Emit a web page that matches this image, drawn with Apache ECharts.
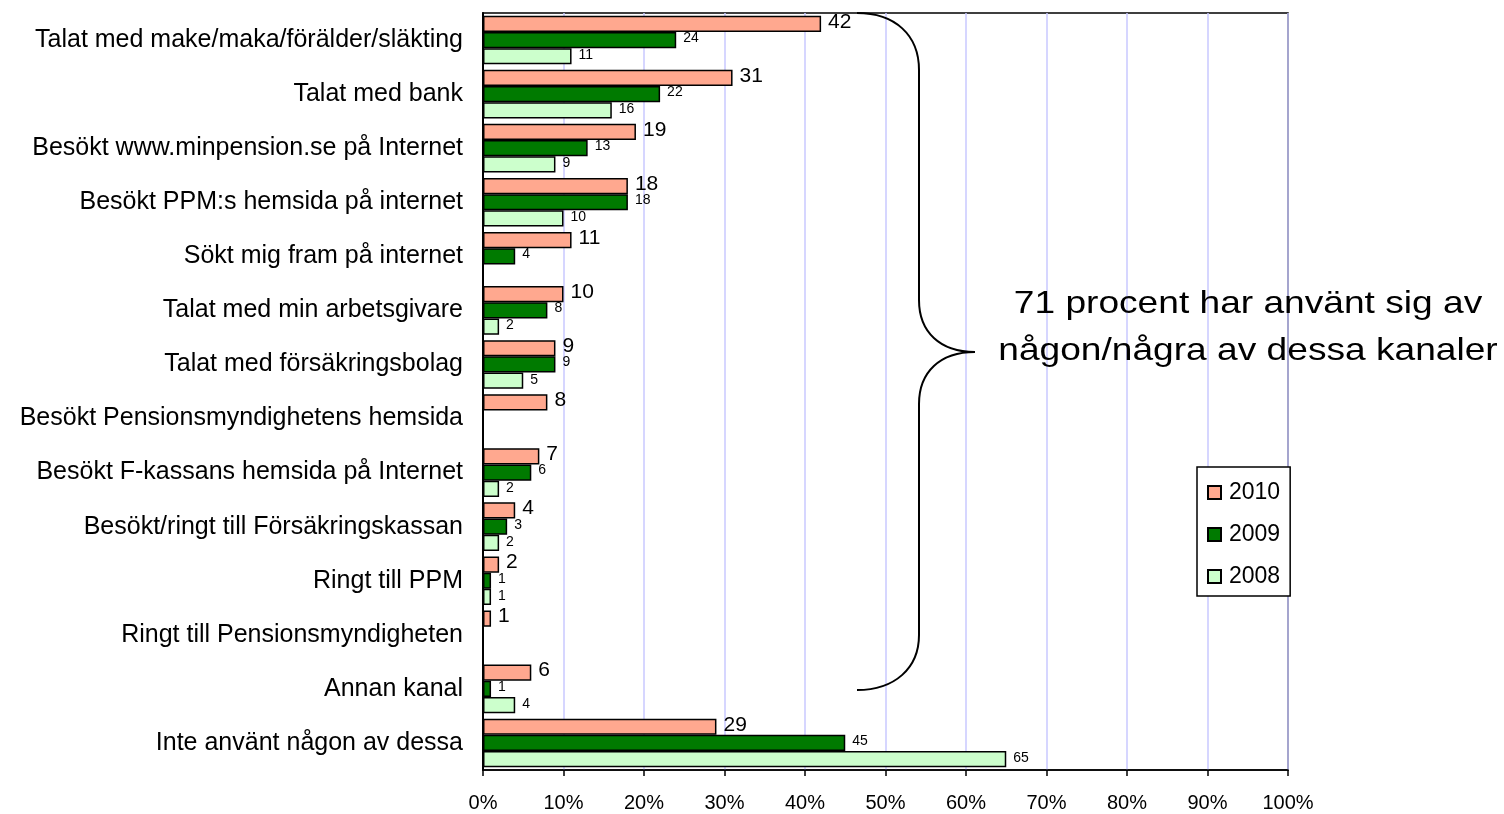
<!DOCTYPE html>
<html>
<head>
<meta charset="utf-8">
<script src="https://cdn.jsdelivr.net/npm/echarts@6/dist/echarts.min.js"></script>
<style>
  html, body { margin: 0; padding: 0; background: #fff; }
  #main { width: 1504px; height: 814px; }
</style>
</head>
<body>
<div id="main"></div>
<script>
var categories = [
    'Talat med make/maka/förälder/släkting',
    'Talat med bank',
    'Besökt www.minpension.se på Internet',
    'Besökt PPM:s hemsida på internet',
    'Sökt mig fram på internet',
    'Talat med min arbetsgivare',
    'Talat med försäkringsbolag',
    'Besökt Pensionsmyndighetens hemsida',
    'Besökt F-kassans hemsida på Internet',
    'Besökt/ringt till Försäkringskassan',
    'Ringt till PPM',
    'Ringt till Pensionsmyndigheten',
    'Annan kanal',
    'Inte använt någon av dessa'
];
var values2010 = [42, 31, 19, 18, 11, 10, 9, 8, 7, 4, 2, 1, 6, 29];
var values2009 = [24, 22, 13, 18, 4, 8, 9, '-', 6, 3, 1, '-', 1, 45];
var values2008 = [11, 16, 9, 10, '-', 2, 5, '-', 2, 2, 1, '-', 4, 65];
var tickLabels = ['0%', '10%', '20%', '30%', '40%', '50%', '60%', '70%', '80%', '90%', '100%'];

var font = 'Liberation Sans, Arial, sans-serif';
var myChart = echarts.init(document.getElementById('main'));

function barSeries(name, data, color, labelSize, offsetY) {
    return {
        name: name,
        type: 'bar',
        data: data,
        barGap: '0%',
        barCategoryGap: '10%',
        itemStyle: { color: color, borderColor: '#000', borderWidth: 1.5 },
        label: {
            show: true,
            position: 'right',
            distance: 7,
            offset: [0, offsetY],
            color: '#000',
            fontFamily: font,
            fontSize: labelSize
        }
    };
}

// klammern till höger
var braceStyle = { fill: null, stroke: '#000', lineWidth: 2 };
function curve(x1, y1, c1x, c1y, c2x, c2y, x2, y2) {
    return { type: 'bezierCurve', z: 100, style: braceStyle,
        shape: { x1: x1, y1: y1, cpx1: c1x, cpy1: c1y, cpx2: c2x, cpy2: c2y, x2: x2, y2: y2 } };
}
function line(x1, y1, x2, y2) {
    return { type: 'line', z: 100, style: braceStyle, shape: { x1: x1, y1: y1, x2: x2, y2: y2 } };
}

var option = {
    backgroundColor: '#fff',
    animation: false,
    textStyle: { fontFamily: font },
    grid: { left: 483, right: 216, top: 13, bottom: 44, show: true, borderColor: '#000', borderWidth: 1.5 },
    legend: {
        orient: 'vertical',
        left: 1197,
        top: 467,
        padding: [14, 10, 8, 10],
        itemGap: 19,
        itemWidth: 13,
        itemHeight: 13,
        icon: 'rect',
        borderColor: '#000',
        borderWidth: 1.5,
        backgroundColor: '#fff',
        textStyle: { fontSize: 23, color: '#000', fontFamily: font, padding: [0, 0, 0, 3] },
        data: ['2010', '2009', '2008']
    },
    xAxis: {
        type: 'value',
        min: 0,
        max: 100,
        interval: 10,
        axisLine: { show: true, lineStyle: { color: '#000', width: 1.5 } },
        axisTick: { show: true, length: 6, lineStyle: { color: '#000', width: 1.5 } },
        axisLabel: {
            fontSize: 20, color: '#000', margin: 23, fontFamily: font,
            formatter: function (v) { return tickLabels[Math.round(v / 10)]; }
        },
        splitLine: { show: true, lineStyle: { color: '#c8c8ff', width: 1.5 } }
    },
    yAxis: {
        type: 'category',
        inverse: true,
        data: categories,
        axisLine: { show: true, lineStyle: { color: '#000', width: 2 } },
        axisTick: { show: false },
        axisLabel: { fontSize: 25, color: '#000', margin: 20, fontFamily: font }
    },
    series: [
        barSeries('2010', values2010, '#ffa88f', 21, -2),
        barSeries('2009', values2009, '#007a00', 14, -2),
        barSeries('2008', values2008, '#ccffcc', 14, -1)
    ],
    graphic: [
        curve(857, 13, 895, 13, 919, 35, 919, 70),
        line(919, 70, 919, 300),
        curve(919, 300, 919, 332, 940, 352, 975, 352),
        curve(975, 352, 940, 352, 919, 372, 919, 404),
        line(919, 404, 919, 635),
        curve(919, 635, 919, 668, 895, 690, 857, 690),
        {
            type: 'text',
            z: 100,
            x: 1248,
            y: 281,
            scaleX: 1.16,
            style: {
                text: '71 procent har använt sig av\nnågon/några av dessa kanaler',
                fontSize: 32,
                lineHeight: 47,
                fontFamily: font,
                fill: '#000',
                align: 'center'
            }
        }
    ]
};

myChart.setOption(option);
</script>
</body>
</html>
